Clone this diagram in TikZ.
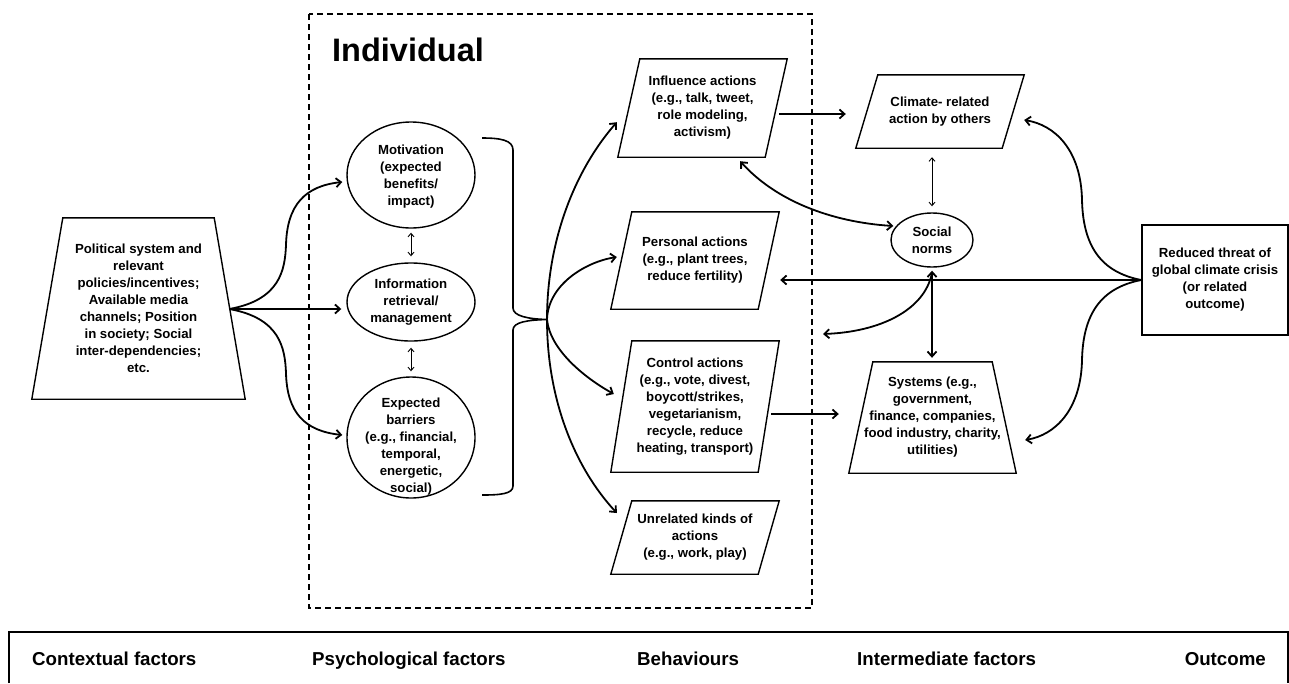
\documentclass[tikz,border=0pt]{standalone}
\usepackage{fontspec}
\setmainfont{Liberation Sans}
\usetikzlibrary{arrows.meta,calc,shapes.geometric}
\begin{document}
\begin{tikzpicture}[x=1pt,y=-1pt,
  txt/.style={font=\fontsize{13.2}{17}\selectfont\bfseries, align=center, inner sep=0pt, text=black},
  outl/.style={line width=1.4pt},
  ell/.style={ellipse, draw, line width=1.4pt, inner sep=0pt},
  conn/.style={line width=1.8pt, -{Straight Barb[length=5pt,width=9pt]}},
  thindbl/.style={line width=0.9pt, {Straight Barb[length=3.5pt,width=6pt]}-{Straight Barb[length=3.5pt,width=6pt]}},
  thickdbl/.style={line width=1.8pt, {Straight Barb[length=5pt,width=9pt]}-{Straight Barb[length=5pt,width=9pt]}},
  lab/.style={font=\fontsize{18.7}{22}\selectfont\bfseries, inner sep=0pt, anchor=base west},
  dashbox/.style={line width=1.4pt, dash pattern=on 6pt off 4pt},
]
\useasboundingbox (0,0) rectangle (1289,683);

% dashed individual box
\draw[dashbox] (309,14) rectangle (812,608);
\node[font=\fontsize{32.5}{36}\selectfont\bfseries, anchor=base west, inner sep=0pt] (indT) at (332,61) {Individual};

% contextual trapezoid
\node[txt, minimum width=213pt, minimum height=181pt] (ctx) at (138.5,308.5)
  {Political system and\\relevant\\policies/incentives;\\Available media\\channels; Position\\in society; Social\\inter-dependencies;\\etc.};
\draw[outl] (ctx.south west) -- ($(ctx.north west)+(31,0)$) -- ($(ctx.north east)+(-31,0)$) -- (ctx.south east) -- cycle;

% ellipses
\node[ell, minimum width=128pt, minimum height=106pt] (mot) at (411,175) {};
\node[txt] (motT) at (411,177) {Motivation\\(expected\\benefits/\\impact)};
\node[ell, minimum width=128pt, minimum height=78pt] (info) at (411,302) {};
\node[txt] (infoT) at (411,302.5) {Information\\retrieval/\\management};
\node[ell, minimum width=128pt, minimum height=121pt] (barr) at (411,437.5) {};
\node[txt] (barrT) at (411,447) {Expected\\barriers\\(e.g., financial,\\temporal,\\energetic,\\social)};

% behaviours
\node[txt, minimum width=169pt, minimum height=98pt] (infl) at (702.5,108)
  {Influence actions\\(e.g., talk, tweet,\\role modeling,\\activism)};
\draw[outl] (infl.south west) -- ($(infl.north west)+(22,0)$) -- (infl.north east) -- ($(infl.south east)+(-22,0)$) -- cycle;
\node[txt, minimum width=168pt, minimum height=97pt] (pers) at (695,260.5)
  {Personal actions\\(e.g., plant trees,\\reduce fertility)};
\draw[outl] (pers.south west) -- ($(pers.north west)+(21,0)$) -- (pers.north east) -- ($(pers.south east)+(-21,0)$) -- cycle;
\node[txt, minimum width=168pt, minimum height=131pt] (ctrl) at (695,406.5)
  {Control actions\\(e.g., vote, divest,\\boycott/strikes,\\vegetarianism,\\recycle, reduce\\heating, transport)};
\draw[outl] (ctrl.south west) -- ($(ctrl.north west)+(21,0)$) -- (ctrl.north east) -- ($(ctrl.south east)+(-21,0)$) -- cycle;
\node[txt, minimum width=168pt, minimum height=73pt] (unrel) at (695,537.5)
  {Unrelated kinds of\\actions\\(e.g., work, play)};
\draw[outl] (unrel.south west) -- ($(unrel.north west)+(21,0)$) -- (unrel.north east) -- ($(unrel.south east)+(-21,0)$) -- cycle;

% intermediate
\node[txt, minimum width=168pt, minimum height=73pt] (clim) at (940,111.5)
  {Climate- related\\action by others};
\draw[outl] (clim.south west) -- ($(clim.north west)+(22,0)$) -- (clim.north east) -- ($(clim.south east)+(-22,0)$) -- cycle;
\node[ell, minimum width=82pt, minimum height=54pt] (soc) at (932,240) {};
\node[txt] (socT) at (932,240.5) {Social\\norms};
\node[txt, minimum width=167pt, minimum height=111pt] (sys) at (932.5,417.5)
  {Systems (e.g.,\\government,\\finance, companies,\\food industry, charity,\\utilities)};
\draw[outl] (sys.south west) -- ($(sys.north west)+(24,0)$) -- ($(sys.north east)+(-24,0)$) -- (sys.south east) -- cycle;

% outcome
\node[txt, draw, line width=1.4pt, minimum width=146pt, minimum height=110pt] (red) at (1215,280)
  {Reduced threat of\\global climate crisis\\(or related\\outcome)};

% left connectors
\coordinate (fork) at ($(ctx.east)+(-16,0.5)$);
\draw[conn] (fork) -- ($(info.west)+(-5,7)$);
\draw[conn] (fork) .. controls (280,300) and (285,270) .. (286,245) .. controls (287,205) and (305,186) .. ($(mot.west)+(-4,7)$);
\draw[conn] (fork) .. controls (280,318) and (285,348) .. (286,373) .. controls (287,413) and (305,431) .. ($(barr.west)+(-4,-2.5)$);
\draw[thindbl] ($(mot.south)+(0,4)$) -- ($(info.north)+(0,-6)$);
\draw[thindbl] ($(info.south)+(0,6)$) -- ($(barr.north)+(0,-5)$);

% brace
\coordinate (bt) at (547,319.5);
\draw[line width=1.6pt] (482,138) .. controls (500,138) and (513,140) .. (513,150) -- (513,308)
  .. controls (513,316) and (528,319) .. (bt) .. controls (528,320) and (513,322) .. (513,330)
  -- (513,486) .. controls (513,494) and (500,495) .. (482,495);

% fan
\draw[conn] (bt) .. controls (547,240) and (575,170) .. ($(infl.south west)+(-1,-35)$);
\draw[conn] (bt) .. controls (547,400) and (575,468) .. ($(unrel.west)+(6,-24.5)$);
\draw[conn] (bt) .. controls (548,285) and (585,262) .. ($(pers.west)+(6,-3.5)$);
\draw[conn] (bt) .. controls (550,350) and (585,378) .. ($(ctrl.west)+(3,-12.5)$);

% right connectors
\draw[conn] ($(infl.east)+(-8,6)$) -- ($(clim.west)+(-10,2.5)$);
\draw[conn] ($(ctrl.east)+(-8,7.5)$) -- ($(sys.west)+(-10,-3.5)$);
\draw[thindbl] ($(soc.north |- clim.south)+(0,9)$) -- ($(soc.north)+(0,-6)$);
\draw[thickdbl] ($(soc.south)+(0,3)$) -- ($(soc.south |- sys.north)+(0,-4)$);
\draw[thickdbl] ($(infl.south east)+(-47,4)$) .. controls (775,200) and (830,222) .. ($(soc.west)+(3,-14)$);
\coordinate (toind) at (823,334);
\draw[conn] ($(soc.south)+(0,5)$) .. controls (925,310) and (880,332) .. (toind);
\draw[conn] (red.west) -- ($(pers.east)+(1,19.5)$);
\draw[conn] (red.west) .. controls (1100,272) and (1083,245) .. (1082,200) .. controls (1081,150) and (1055,125) .. ($(clim.east)+(0,8.5)$);
\draw[conn] (red.west) .. controls (1100,288) and (1083,315) .. (1082,360) .. controls (1081,410) and (1055,435) .. ($(sys.east)+(9,22.5)$);

% bottom bar
\draw[line width=1.6pt] (9,683) -- (9,632) -- (1288,632) -- (1288,683);
\node[lab] (l1) at (32,665) {Contextual factors};
\node[lab] (l2) at (312,665) {Psychological factors};
\node[lab] (l3) at (637,665) {Behaviours};
\node[lab] (l4) at (857,665) {Intermediate factors};
\node[lab, anchor=base east] (l5) at (1266,665) {Outcome};
\end{tikzpicture}
\end{document}
